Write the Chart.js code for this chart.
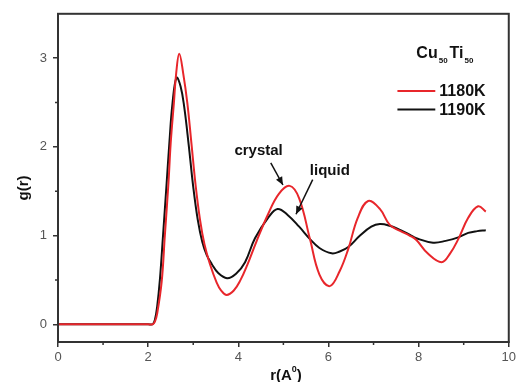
<!DOCTYPE html>
<html>
<head>
<meta charset="utf-8">
<script src="https://cdn.jsdelivr.net/npm/chart.js@4.4.0/dist/chart.umd.min.js"></script>
<style>
  html, body { margin: 0; padding: 0; background: #fff; }
  #wrap { width: 519px; height: 382px; }
</style>
</head>
<body>
<div id="wrap"><canvas id="c" width="519" height="382"></canvas></div>
<script>
// g(r) for Cu50Ti50
const r1180 = [0, 1.0, 2.0, 2.1, 2.15, 2.2, 2.3, 2.37, 2.45, 2.5, 2.57, 2.62, 2.69, 2.78, 2.87, 2.96, 3.05, 3.15, 3.25, 3.37, 3.52, 3.62, 3.74, 3.9, 4.05, 4.2, 4.4, 4.66, 4.9, 5.14, 5.35, 5.59, 5.8, 6.03, 6.25, 6.44, 6.65, 6.88, 7.14, 7.36, 7.6, 7.8, 7.95, 8.2, 8.51, 8.7, 8.88, 9.1, 9.32, 9.49];
const g1180 = [0, 0, 0, 0, 0.03, 0.12, 0.48, 1.0, 1.59, 2.04, 2.49, 2.82, 3.05, 2.82, 2.49, 2.04, 1.58, 1.18, 0.9, 0.68, 0.47, 0.38, 0.33, 0.38, 0.5, 0.67, 0.93, 1.24, 1.47, 1.56, 1.42, 0.96, 0.56, 0.43, 0.6, 0.85, 1.2, 1.39, 1.3, 1.12, 1.05, 1.0, 0.95, 0.8, 0.7, 0.8, 0.96, 1.2, 1.33, 1.27];

const r1190 = [0, 1.0, 2.0, 2.1, 2.15, 2.2, 2.26, 2.33, 2.41, 2.47, 2.54, 2.63, 2.72, 2.8, 2.9, 3.0, 3.1, 3.2, 3.3, 3.41, 3.55, 3.75, 3.95, 4.15, 4.37, 4.66, 4.87, 5.1, 5.35, 5.59, 5.8, 6.07, 6.25, 6.44, 6.7, 6.95, 7.14, 7.36, 7.6, 7.8, 7.95, 8.32, 8.6, 8.88, 9.1, 9.3, 9.49];
const g1190 = [0, 0, 0, 0, 0.05, 0.2, 0.5, 1.0, 1.59, 2.04, 2.49, 2.78, 2.68, 2.45, 2.02, 1.55, 1.18, 0.93, 0.78, 0.68, 0.58, 0.52, 0.57, 0.7, 0.97, 1.2, 1.3, 1.23, 1.1, 0.96, 0.86, 0.8, 0.82, 0.87, 1.0, 1.1, 1.13, 1.11, 1.06, 1.01, 0.97, 0.92, 0.94, 0.98, 1.03, 1.05, 1.06];

const xTicks = [0, 2, 4, 6, 8, 10];
const yTicks = [0, 1, 2, 3];
const xMinor = [1, 3, 5, 7, 9];
const yMinor = [0.5, 1.5, 2.5];

const axisColor = '#333';
const labelColor = '#555';

function pts(xs, ys) { return xs.map((x, i) => ({ x: x, y: ys[i] })); }

const decor = {
  id: 'decor',
  afterDraw(chart) {
    const ctx = chart.ctx;
    const a = chart.chartArea;
    const xs = chart.scales.x, ys = chart.scales.y;
    const px = v => xs.getPixelForValue(v);
    const py = v => ys.getPixelForValue(v);
    ctx.save();
    // frame
    ctx.strokeStyle = axisColor;
    ctx.lineWidth = 2;
    ctx.strokeRect(a.left, a.top, a.right - a.left, a.bottom - a.top);
    // minor ticks
    ctx.beginPath();
    xMinor.forEach(v => { ctx.moveTo(px(v), a.bottom); ctx.lineTo(px(v), a.bottom + 3); });
    yMinor.forEach(v => { ctx.moveTo(a.left, py(v)); ctx.lineTo(a.left - 3, py(v)); });
    ctx.lineWidth = 1.5;
    ctx.stroke();

    ctx.fillStyle = '#111';
    ctx.textBaseline = 'alphabetic';
    // composition label
    let x = px(7.95), y = py(3.0);
    ctx.font = 'bold 16px "Liberation Sans", Arial, sans-serif';
    ctx.fillText('Cu', x, y);
    x += ctx.measureText('Cu').width + 1;
    ctx.font = 'bold 8px "Liberation Sans", Arial, sans-serif';
    ctx.fillText('50', x, y + 5);
    x += ctx.measureText('50').width + 2;
    ctx.font = 'bold 16px "Liberation Sans", Arial, sans-serif';
    ctx.fillText('Ti', x, y);
    x += ctx.measureText('Ti').width + 1;
    ctx.font = 'bold 8px "Liberation Sans", Arial, sans-serif';
    ctx.fillText('50', x, y + 5);

    // legend
    const legend = [['1180K', '#e8262b', 2.63], ['1190K', '#111', 2.42]];
    legend.forEach(([txt, col, gy]) => {
      ctx.strokeStyle = col;
      ctx.lineWidth = 2;
      ctx.beginPath();
      ctx.moveTo(px(7.53), py(gy));
      ctx.lineTo(px(8.37), py(gy));
      ctx.stroke();
      ctx.fillStyle = '#111';
      ctx.font = 'bold 16px "Liberation Sans", Arial, sans-serif';
      ctx.textBaseline = 'middle';
      ctx.fillText(txt, px(8.46), py(gy) + 1);
    });

    // annotations
    ctx.font = 'bold 15px "Liberation Sans", Arial, sans-serif';
    ctx.textAlign = 'center';
    ctx.textBaseline = 'middle';
    ctx.fillText('crystal', px(4.45), py(1.95));
    ctx.fillText('liquid', px(6.03), py(1.73));

    function arrow(x0, y0, x1, y1) {
      ctx.strokeStyle = '#111';
      ctx.fillStyle = '#111';
      ctx.lineWidth = 1.5;
      ctx.beginPath();
      ctx.moveTo(x0, y0);
      ctx.lineTo(x1, y1);
      ctx.stroke();
      const ang = Math.atan2(y1 - y0, x1 - x0);
      const L = 8, W = 3.5;
      ctx.beginPath();
      ctx.moveTo(x1, y1);
      ctx.lineTo(x1 - L * Math.cos(ang) + W * Math.sin(ang), y1 - L * Math.sin(ang) - W * Math.cos(ang));
      ctx.lineTo(x1 - L * Math.cos(ang) - W * Math.sin(ang), y1 - L * Math.sin(ang) + W * Math.cos(ang));
      ctx.closePath();
      ctx.fill();
    }
    arrow(px(4.72), py(1.82), px(4.99), py(1.57));
    arrow(px(5.65), py(1.63), px(5.28), py(1.24));

    // axis titles
    ctx.font = 'bold 15px "Liberation Sans", Arial, sans-serif';
    ctx.save();
    ctx.translate(24, (a.top + a.bottom) / 2 + 10);
    ctx.rotate(-Math.PI / 2);
    ctx.textAlign = 'center';
    ctx.fillText('g(r)', 0, 0);
    ctx.restore();

    ctx.textAlign = 'left';
    ctx.textBaseline = 'alphabetic';
    const t1 = 'r(A', t3 = ')';
    ctx.font = 'bold 15px "Liberation Sans", Arial, sans-serif';
    const w1 = ctx.measureText(t1).width, w3 = ctx.measureText(t3).width;
    ctx.font = 'bold 9px "Liberation Sans", Arial, sans-serif';
    const w2 = ctx.measureText('0').width;
    let tx = 286 - (w1 + w2 + w3) / 2, ty = 380;
    ctx.font = 'bold 15px "Liberation Sans", Arial, sans-serif';
    ctx.fillText(t1, tx, ty);
    ctx.font = 'bold 9px "Liberation Sans", Arial, sans-serif';
    ctx.fillText('0', tx + w1, ty - 8);
    ctx.font = 'bold 15px "Liberation Sans", Arial, sans-serif';
    ctx.fillText(t3, tx + w1 + w2, ty);
    ctx.restore();
  }
};

new Chart(document.getElementById('c').getContext('2d'), {
  type: 'line',
  data: {
    datasets: [
      { label: '1180K', data: pts(r1180, g1180), borderColor: '#e8262b', borderWidth: 2, pointRadius: 0, tension: 0.4, fill: false },
      { label: '1190K', data: pts(r1190, g1190), borderColor: '#111', borderWidth: 2, pointRadius: 0, tension: 0.4, fill: false }
    ]
  },
  options: {
    responsive: false,
    animation: false,
    events: [],
    layout: { padding: { top: 9, right: 10, left: 0, bottom: 0 } },
    plugins: { legend: { display: false }, tooltip: { enabled: false } },
    scales: {
      x: {
        type: 'linear', min: 0, max: 10,
        afterBuildTicks: s => { s.ticks = xTicks.map(v => ({ value: v })); },
        afterFit: s => { s.height = 40; },
        grid: { drawOnChartArea: false, tickLength: 5, color: axisColor, lineWidth: 1.5 },
        border: { color: axisColor, width: 2 },
        ticks: { color: labelColor, font: { size: 13, family: '"Liberation Sans", Arial, sans-serif' }, padding: 3, maxRotation: 0 }
      },
      y: {
        type: 'linear', min: -0.2, max: 3.5,
        afterBuildTicks: s => { s.ticks = yTicks.map(v => ({ value: v })); },
        afterFit: s => { s.width = 58; },
        grid: { drawOnChartArea: false, tickLength: 5, color: axisColor, lineWidth: 1.5 },
        border: { color: axisColor, width: 2 },
        ticks: { color: labelColor, font: { size: 13, family: '"Liberation Sans", Arial, sans-serif' }, padding: 6 }
      }
    }
  },
  plugins: [decor]
});
</script>
</body>
</html>
